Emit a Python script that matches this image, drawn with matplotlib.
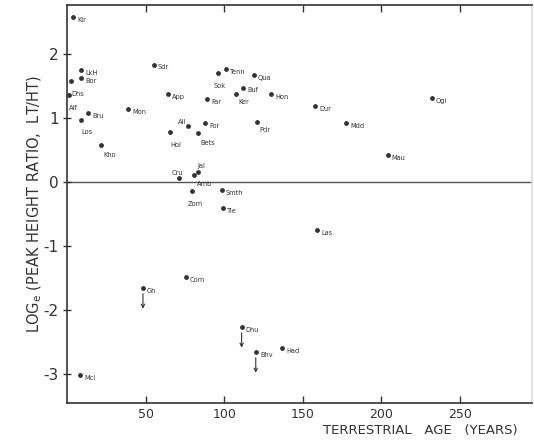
import matplotlib
matplotlib.use("Agg")
import matplotlib.pyplot as plt

plt.rcParams['font.family'] = ['Liberation Sans Narrow', 'DejaVu Sans']

# meteorite labels, terrestrial age (years), log_e(LT/HT)
names = ["Kir", "LkH", "Bor", "Dhs", "Alf", "Bru", "Los", "Sdr", "App", "Mon",
         "Hol", "All", "Bets", "Far", "For", "Tenn", "Sok", "Ker", "Qua", "Buf",
         "Hon", "Dur", "Pdr", "Mdd", "Ogi", "Kho", "Cru", "Jal", "Amb", "Zom",
         "Smth", "Tie", "Mau", "Las", "Com", "Gh", "Dhu", "Mcl", "Bhv", "Had"]
ages = [3.5, 8.6, 8.6, 2.2, 1.0, 13.1, 8.6, 55.1, 64.0, 38.5,
        65.3, 76.8, 83.1, 88.9, 87.6, 101.0, 95.9, 107.3, 118.8, 111.8,
        129.6, 157.6, 120.7, 177.4, 232.2, 21.3, 71.0, 83.1, 80.6, 79.3,
        98.4, 99.0, 204.0, 159.0, 75.5, 48.1, 111.0, 8.0, 120.0, 136.6]
ratios = [2.58, 1.75, 1.63, 1.58, 1.36, 1.08, 0.98, 1.84, 1.38, 1.14,
          0.78, 0.88, 0.77, 1.30, 0.92, 1.77, 1.70, 1.38, 1.67, 1.48,
          1.38, 1.19, 0.94, 0.92, 1.31, 0.58, 0.06, 0.16, 0.12, -0.14,
          -0.12, -0.41, 0.42, -0.75, -1.48, -1.66, -2.27, -3.02, -2.66, -2.59]
# upper limits (drawn with a downward arrow)
upper_limits = ["Gh", "Dhu", "Bhv"]

# label offsets in points (dx, dy), default right and slightly below
offsets = {"Dhs": (0, -9), "Alf": (0, -9), "Los": (0, -9), "Sok": (-3, -9),
           "Hol": (0, -9), "Bets": (2, -7), "All": (-7, 3), "Cru": (-5, 4),
           "Jal": (0, 4), "Amb": (2, -7), "Zom": (-3, -9), "Kho": (2, -7),
           "Pdr": (2, -6), "Ker": (2, -6)}

fig = plt.figure(figsize=(5.34, 4.43), dpi=100)
ax = fig.add_axes([0.1264, 0.0903, 0.8696, 0.8984])

ink = '#333333'
ax.scatter(ages, ratios, s=6, color=ink, zorder=3)

for n, x, y in zip(names, ages, ratios):
    dx, dy = offsets.get(n, (3, -2))
    ax.annotate(n, (x, y), xytext=(dx, dy), textcoords='offset points',
                fontsize=4.8, color=ink, va='center', ha='left')
    if n in upper_limits:
        ax.annotate('', xy=(x, y - 0.36), xytext=(x, y - 0.04),
                    arrowprops=dict(arrowstyle='->', color=ink, lw=0.8,
                                    mutation_scale=6))

ax.axhline(0, color='#555555', lw=1.0, zorder=1)

ax.set_xlim(0, 296)
ax.set_ylim(-3.45, 2.77)
ax.set_xticks([50, 100, 150, 200, 250])
ax.set_yticks([2, 1, 0, -1, -2, -3])
ax.set_yticklabels(['2', '1', '0', '-1', '-2', '-3'])
ax.tick_params(axis='x', direction='in', top=True, length=5, labelsize=9,
               colors=ink, width=1)
ax.tick_params(axis='y', direction='inout', length=6, labelsize=11,
               colors=ink, width=1)
for s in ax.spines.values():
    s.set_color(ink)
    s.set_linewidth(1.2)
ax.spines['right'].set_color('#dddddd')

ax.set_ylabel('LOG$_\\mathrm{e}$ (PEAK HEIGHT RATIO,  LT/HT)', fontsize=10.5,
              color=ink)
ax.yaxis.set_label_coords(-0.05, 0.5)
ax.text(0.76, -0.07, 'TERRESTRIAL   AGE   (YEARS)', transform=ax.transAxes,
        ha='center', va='center', fontsize=9.5, color=ink)

fig.savefig('out.png', dpi=100)
